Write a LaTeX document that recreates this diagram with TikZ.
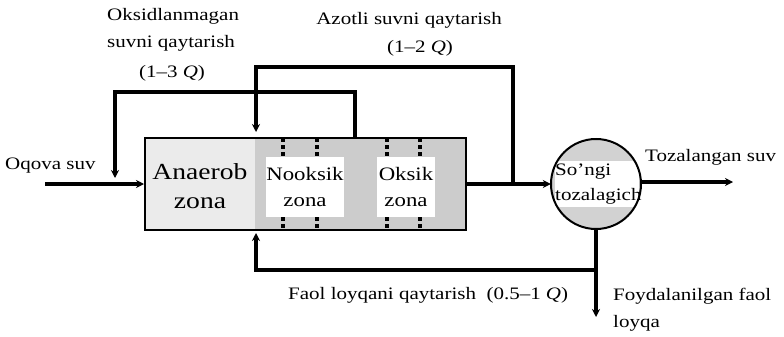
\documentclass[tikz,border=0pt]{standalone}
\usepackage{fontspec}
\setmainfont{Liberation Serif}[FakeStretch=1.2]
\usetikzlibrary{arrows.meta,calc}
\begin{document}
\begin{tikzpicture}[x=1pt,y=-1pt,
  flow/.style={line width=3.2pt,-{Stealth[length=8pt,width=8pt]}},
  pipe/.style={line width=3.2pt},
  lbl/.style={font=\fontsize{17.5}{27}\selectfont,inner sep=0pt},
  zonebox/.style={fill=white,inner sep=0pt,align=center,font=\fontsize{19}{26}\selectfont},
  sepline/.style={line width=3.5pt,dash pattern=on 4pt off 3pt}]
\useasboundingbox (0,0) rectangle (784,337);
% reactor
\fill[gray!16] (144,137) rectangle (255,229);
\fill[gray!40] (255,137) rectangle (465,229);
\node[zonebox,minimum width=78pt,minimum height=60pt] (nook) at (305,187) {Nooksik\\zona};
\node[zonebox,minimum width=58pt,minimum height=60pt] (oks) at (406,187) {Oksik\\zona};
\foreach \xx in {283,317,387,420}{
  \draw[sepline] (\xx,138) -- (\xx,157);
  \draw[sepline] (\xx,217) -- (\xx,228);
}
\node[draw,line width=2pt,minimum width=321pt,minimum height=92pt,anchor=north west,inner sep=0pt] (reactor) at (144,137) {};
\node[font=\fontsize{23}{29}\selectfont,align=center,inner sep=0pt] (anaer) at (200,186) {Anaerob\\zona};
% clarifier
\node[circle,fill=gray!35,minimum size=90pt,inner sep=0pt] (clar) at (596,184) {};
\node[fill=white,minimum width=84pt,minimum height=46pt,inner sep=0pt] (cbox) at (597,184) {};
\draw[line width=2pt] (clar.center) circle[radius=45pt];
\node[lbl,font=\fontsize{17.5}{25}\selectfont,align=left,anchor=west] (ctext) at (555,184) {So'ngi\\tozalagich};
% labels
\node[lbl,anchor=west] (oqova) at (5,166) {Oqova suv};
\node[lbl,anchor=north west,align=left] (oksl) at (107,8) {Oksidlanmagan\\suvni qaytarish};
\node[lbl] (oksq) at (172,73) {(1–3 \textit{Q})};
\node[lbl] (azl) at (409,20) {Azotli suvni qaytarish};
\node[lbl] (azq) at (420,48) {(1–2 \textit{Q})};
\node[lbl,anchor=west] (toz) at (645,157) {Tozalangan suv};
\node[lbl,anchor=west] (faol) at (288,295) {Faol loyqani qaytarish~ (0.5–1 \textit{Q})};
\node[lbl,anchor=north west,align=left] (foyd) at (613,288) {Foydalanilgan faol\\loyqa};
% coordinates
\coordinate (in0) at (45,184);
\coordinate (j1) at (513,184);
\coordinate (oxs) at (355,137);
\coordinate (oxt) at (355,92);
\coordinate (oxe) at (115,178);
\coordinate (azt) at (256,67);
\coordinate (aze) at (256,132);
\coordinate (sj) at (596,270);
\coordinate (sout) at (596,317);
\coordinate (rin) at (256,233);
\coordinate (tout) at (733,182);
% connectors
\draw[flow] (in0) -- (in0 -| reactor.west);
\draw[flow] (reactor.east |- j1) -- (j1 -| clar.west);
\draw[flow] (j1) |- (azt) -- (aze);
\draw[flow] (oxs) -- (oxt) -| (oxe);
\draw[pipe] (clar.south) -- (sj);
\draw[flow] (sj) -- (sout);
\draw[flow] (sj) -| (rin);
\draw[flow] (clar.east |- tout) -- (tout);
\end{tikzpicture}
\end{document}
